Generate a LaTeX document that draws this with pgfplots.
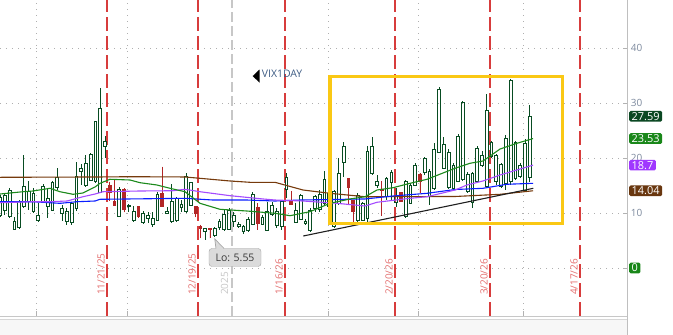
\documentclass[border=0pt]{standalone}
\usepackage{pgfplots}
\pgfplotsset{compat=1.18}
\usepackage{pgfplotstable}
\usepgfplotslibrary{statistics}
\usepackage{fontspec}
\setmainfont{Open Sans}

\definecolor{cg}{RGB}{8,76,34}
\definecolor{cr}{RGB}{178,38,38}
\definecolor{mabrown}{RGB}{118,58,12}
\definecolor{magreen}{RGB}{28,138,28}
\definecolor{mapurple}{RGB}{165,75,255}
\definecolor{mablue}{RGB}{10,30,255}
\definecolor{ylw}{RGB}{250,200,20}
\definecolor{gridc}{RGB}{175,175,175}
\definecolor{datec}{RGB}{228,110,110}
\definecolor{redline}{RGB}{215,60,60}
\definecolor{tickc}{RGB}{125,138,158}
\definecolor{vixc}{RGB}{62,92,132}
\definecolor{lblgreendark}{RGB}{10,72,34}
\definecolor{lblgreen}{RGB}{25,135,25}
\definecolor{lblpurple}{RGB}{160,55,255}
\definecolor{lblbrown}{RGB}{105,55,15}

% candle index, wick low, body low, body top, wick high
\pgfplotstableread{
i wl bl bt wh
0 9.33 9.64 12.79 13.27
1 9.64 10.55 13.27 13.58
2 9.03 9.33 14.06 14.48
3 6.91 7.03 8.54 9.33
4 7.21 7.33 12.06 12.36
5 10.85 11.15 14.91 20.54
6 10.55 12.06 13.88 15.82
7 10.12 10.24 13.58 14.48
8 8.42 8.73 9.64 11.76
9 11.76 12.06 14.91 15.21
10 9.15 11.15 12.67 14.48
11 10.36 10.55 15.58 15.82
12 14.18 14.61 16.42 18.12
13 8.54 9.94 10.85 11.45
14 7.82 8.54 10.36 10.85
15 7.82 8.30 11.76 12.06
16 10.36 10.85 16.73 19.21
17 15.09 17.52 18.12 18.85
18 14.79 15.09 19.03 20.54
19 15.82 16.00 20.67 20.85
20 15.39 15.70 26.61 26.73
21 13.58 13.76 29.03 32.67
22 19.94 22.06 23.09 24.00
23 12.18 13.76 15.09 15.70
24 11.33 11.33 12.18 16.00
25 9.33 9.45 14.30 14.79
26 10.12 10.67 14.30 14.48
27 10.12 11.15 11.45 11.64
28 8.42 8.61 10.24 11.27
29 9.27 9.33 11.27 11.27
30 8.12 8.24 9.94 10.36
31 8.12 9.03 9.64 10.12
32 7.52 7.94 9.03 10.12
33 8.61 8.61 13.45 13.88
34 11.15 11.15 13.58 18.42
35 9.76 9.94 10.36 11.15
36 8.30 8.42 12.18 15.27
37 8.42 8.61 12.67 12.97
38 10.12 11.03 11.58 12.36
39 10.12 10.24 16.73 17.33
40 11.33 11.45 15.52 15.70
41 9.21 9.94 11.27 11.27
42 5.39 7.21 7.64 7.82
43 5.09 6.73 7.21 7.21
44 5.39 7.03 7.21 7.21
45 5.55 6.00 7.21 7.52
46 6.91 7.33 8.54 8.91
47 6.73 7.09 9.76 10.55
48 6.91 7.09 10.55 10.97
49 7.52 8.54 9.64 10.24
50 7.33 7.52 7.94 8.42
51 6.12 6.61 7.64 7.82
52 6.61 6.91 8.91 9.33
53 7.82 7.94 13.39 13.76
54 6.91 8.12 11.03 11.76
55 7.82 7.94 9.15 9.64
56 6.73 6.91 10.36 12.06
57 9.52 9.76 11.45 12.06
58 7.21 7.82 10.36 10.85
59 6.91 7.52 12.06 12.36
60 12.67 14.36 16.42 17.21
61 11.58 11.64 12.24 14.00
62 8.24 8.30 10.55 11.76
63 8.73 8.91 13.27 13.39
64 7.82 8.12 8.54 8.85
65 6.73 6.79 10.55 10.85
66 10.12 10.85 12.97 13.27
67 10.12 10.73 13.45 14.18
68 11.45 11.76 16.18 17.64
69 10.85 11.15 13.58 14.48
70 7.33 7.52 14.00 14.18
71 11.45 11.76 17.21 19.94
72 16.61 19.21 22.06 22.97
73 11.45 14.67 16.30 16.30
74 8.12 10.24 12.36 12.36
75 8.42 8.61 13.15 13.58
76 8.54 8.73 11.76 11.94
77 8.42 9.03 21.27 22.18
78 16.91 17.21 22.18 23.88
79 14.48 14.97 15.82 16.91
80 9.52 14.12 14.36 15.82
81 12.36 12.97 16.30 16.61
82 12.18 15.58 17.39 17.82
83 11.15 11.94 12.97 14.48
84 12.06 12.18 13.76 13.76
85 9.15 9.33 15.70 16.00
86 11.58 11.76 15.09 15.39
87 14.97 15.09 18.73 19.03
88 13.58 15.82 17.09 17.33
89 16.91 17.33 19.94 20.24
90 11.45 12.97 17.52 17.94
91 14.18 14.48 21.64 22.67
92 20.85 21.03 32.55 32.97
93 18.00 18.12 22.48 23.88
94 14.48 14.61 21.03 21.64
95 14.18 14.48 18.73 19.03
96 15.70 15.82 24.00 24.30
97 15.82 16.18 30.12 30.36
98 13.58 13.88 17.03 17.52
99 10.85 11.94 17.21 17.52
100 15.70 15.82 21.76 22.18
101 18.42 18.61 20.42 21.27
102 14.79 14.91 28.73 31.64
103 19.94 20.24 22.85 23.09
104 15.09 15.70 20.54 20.73
105 14.48 14.79 18.85 19.15
106 14.18 15.39 23.58 24.18
107 15.09 15.70 34.06 34.36
108 16.00 16.30 22.79 23.09
109 16.42 16.61 18.73 19.03
110 13.88 14.18 22.67 23.45
111 15.70 16.42 27.59 29.64
}\candles

% draw candle in row #1 with style #2
\newcommand\candle[2]{%
  \pgfplotstablegetelem{#1}{wl}\of\candles\edef\cwl{\pgfplotsretval}%
  \pgfplotstablegetelem{#1}{bl}\of\candles\edef\cbl{\pgfplotsretval}%
  \pgfplotstablegetelem{#1}{bt}\of\candles\edef\cbt{\pgfplotsretval}%
  \pgfplotstablegetelem{#1}{wh}\of\candles\edef\cwh{\pgfplotsretval}%
  \edef\tmpplot{\noexpand\addplot[#2, line width=0.85bp,
    boxplot/draw direction=y,
    boxplot prepared={draw position=#1, lower whisker=\cwl, lower quartile=\cbl,
      median=\cbl, upper quartile=\cbt, upper whisker=\cwh,
      box extend=0.58, whisker extend=0}] coordinates {};}%
  \tmpplot
}

\begin{document}
\begin{tikzpicture}
\useasboundingbox (0,0) rectangle (673bp,335bp);
\fill[white] (0,0) rectangle (673bp,335bp);
\fill[black!3] (0,0) rectangle (627bp,16bp);
\begin{axis}[
  at={(0,19bp)}, anchor=south west,
  scale only axis, width=627bp, height=316bp,
  xmin=0, xmax=131.39, ymin=-8.727, ymax=48.727,
  clip mode=individual,
  axis line style={draw=none},
  ytick={0,10,20,30,40}, yticklabels={,10,20,30,40},
  ytick pos=right, yticklabel pos=right,
  xtick={7.54,26.61,68.73,87.59,109.6}, xticklabels={,,,,},
  xtick pos=left,
  tick align=inside, major tick length=4.5bp,
  tick style={black!30, line width=0.7bp},
  xmajorgrids, ymajorgrids,
  grid style={gridc, line width=0.9bp, dash pattern=on 1bp off 5bp},
  yticklabel style={text=tickc, font=\fontsize{10}{12}\selectfont, xshift=0.3bp},
  /pgf/number format/assume math mode=true,
]
% date separators
\addplot[redline, line width=1.1bp, dash pattern=on 14bp off 5bp] coordinates {(22.42,-8.727) (22.42,48.727)};
\addplot[redline, line width=1.1bp, dash pattern=on 14bp off 5bp] coordinates {(41.49,-8.727) (41.49,48.727)};
\addplot[redline, line width=1.1bp, dash pattern=on 14bp off 5bp] coordinates {(59.72,-8.727) (59.72,48.727)};
\addplot[redline, line width=1.1bp, dash pattern=on 14bp off 5bp] coordinates {(82.77,-8.727) (82.77,48.727)};
\addplot[redline, line width=1.1bp, dash pattern=on 14bp off 5bp] coordinates {(102.68,-8.727) (102.68,48.727)};
\addplot[redline, line width=1.1bp, dash pattern=on 14bp off 5bp] coordinates {(121.54,-8.727) (121.54,48.727)};
\addplot[black!22, line width=1.2bp, dash pattern=on 10bp off 4bp] coordinates {(48.62,-8.727) (48.62,48.727)};

% candles
\pgfplotsinvokeforeach{0,1,2,3,4,5,6,7,8,9,10,11,12,13,14,15,16,17,18,19,20,21,22,25,27,28,30,31,32,33,35,36,37,38,39,40,43,45,46,47,48,49,50,51,52,53,55,56,57,58,59,60,62,63,64,65,66,67,68,69,70,71,72,75,76,77,78,79,81,82,83,85,86,87,89,90,91,92,93,94,95,96,97,98,99,100,101,102,103,104,105,106,107,108,109,110,111}{
  \candle{#1}{cg}
}
\pgfplotsinvokeforeach{23,24,26,29,34,41,42,44,54,61,73,74,80,84,88}{
  \candle{#1}{cr, fill=cr}
}

% moving averages
\addplot[mabrown, line width=1.1bp] coordinates {(0,16.49) (20.96,16.55) (27.24,16.6) (38.77,16.55) (48.2,15.82) (52.39,15.58) (57.63,15.58) (63.5,14.18) (69.15,13.58) (76.49,12.96) (95.35,13.0) (104.8,13.4) (111.7,14.04)};
\addplot[mablue, line width=1.1bp] coordinates {(0,12.05) (6.92,12.05) (12.57,11.76) (16.14,12.05) (19.91,12.18) (20.96,12.49) (38.77,12.67) (44.64,12.36) (51.76,12.36) (57.63,12.18) (62.87,12.36) (76.49,12.55) (82.36,13.09) (89.48,13.58) (95.35,14.27) (101.2,14.49) (106.2,15.22) (111.7,15.4)};
\addplot[mapurple, line width=1.1bp] coordinates {(0,11.87) (6.92,12.05) (10.48,12.05) (14.04,12.18) (17.39,12.96) (19.91,13.45) (21.58,13.87) (29.34,14.0) (36.25,14.05) (38.77,14.31) (41.91,13.87) (48.2,13.15) (55.11,12.55) (57.63,12.36) (63.5,12.18) (70.62,11.76) (76.49,11.27) (79.0,11.95) (85.92,12.67) (89.48,12.96) (95.35,14.18) (97.86,15.09) (101.2,15.82) (104.8,16.91) (108.3,17.82) (111.7,18.7)};
\addplot[magreen, line width=1.1bp] coordinates {(0,13.45) (4.82,13.87) (6.92,14.0) (10.48,14.49) (12.57,13.87) (15.3,13.4) (17.39,13.64) (19.91,14.73) (20.96,15.4) (23.05,16.13) (27.24,16.0) (29.34,15.51) (32.9,15.09) (35.62,14.49) (38.77,13.87) (41.91,11.76) (46.1,10.67) (51.76,10.36) (57.63,9.95) (60.77,9.51) (64.96,10.24) (69.15,11.76) (73.34,12.55) (76.49,12.96) (79.0,14.18) (82.36,14.6) (85.92,15.4) (89.48,16.13) (95.35,18.13) (98.49,19.04) (101.2,19.45) (104.8,21.64) (108.3,22.67) (111.7,23.53)};

% trend line
\addplot[black!88, line width=1.1bp] coordinates {(63.56,5.82) (111.76,14.49)};

% highlight box
\draw[ylw, line width=3.3bp] (axis cs:69.15,8.13) rectangle (axis cs:117.92,34.78);

% symbol label
\fill[black] (axis cs:52.95,34.9) -- (axis cs:54.38,36.09) -- (axis cs:54.38,33.7) -- cycle;
\node[anchor=west, inner sep=0, text=vixc, font=\fontsize{10.5}{12}\selectfont] at (axis cs:54.84,35.3) {VIX1DAY};

% low callout
\node[draw=black!35, fill=black!14, rounded corners=3bp, minimum width=52bp, minimum height=18bp, inner sep=1bp, text=black!78, font=\fontsize{10.5}{12}\selectfont] at (axis cs:49.25,1.91) {Lo: 5.55};
\fill[black!14] (axis cs:45.0,5.3) -- (axis cs:45.26,3.4) -- (axis cs:46.94,3.4) -- cycle;
\draw[black!35, line width=0.7bp] (axis cs:45.26,3.55) -- (axis cs:45.0,5.3) -- (axis cs:46.94,3.55);

% date labels
\node[rotate=90, anchor=south west, inner sep=0, text=datec, font=\fontsize{10}{12}\selectfont] at ([xshift=-2bp]axis cs:22.42,-4.91) {11/21/25};
\node[rotate=90, anchor=south west, inner sep=0, text=datec, font=\fontsize{10}{12}\selectfont] at ([xshift=-2bp]axis cs:41.49,-4.91) {12/19/25};
\node[rotate=90, anchor=south west, inner sep=0, text=datec, font=\fontsize{10}{12}\selectfont] at ([xshift=-2bp]axis cs:59.72,-4.91) {1/16/26};
\node[rotate=90, anchor=south west, inner sep=0, text=datec, font=\fontsize{10}{12}\selectfont] at ([xshift=-2bp]axis cs:82.77,-4.91) {2/20/26};
\node[rotate=90, anchor=south west, inner sep=0, text=datec, font=\fontsize{10}{12}\selectfont] at ([xshift=-2bp]axis cs:102.68,-4.91) {3/20/26};
\node[rotate=90, anchor=south west, inner sep=0, text=datec, font=\fontsize{10}{12}\selectfont] at ([xshift=-2bp]axis cs:121.54,-4.91) {4/17/26};
\node[rotate=90, anchor=south west, inner sep=0, text=black!22, font=\fontsize{10}{12}\selectfont] at ([xshift=-3.5bp]axis cs:48.62,-4.91) {2025};

\coordinate (r1) at (axis cs:131.39,27.59);
\coordinate (r2) at (axis cs:131.39,23.53);
\coordinate (r3) at (axis cs:131.39,18.7);
\coordinate (r4) at (axis cs:131.39,14.04);
\coordinate (r5) at (axis cs:131.39,0);
\end{axis}
\draw[black!22, line width=0.8bp] (0,19bp) -- (627bp,19bp);
\draw[black!16, line width=0.8bp] (0,16bp) -- (627bp,16bp);
\draw[black!25, line width=0.8bp] (627bp,0) -- (627bp,335bp);
\tikzset{vl/.style={anchor=west, text=white, rounded corners=1.5bp, inner xsep=2.5bp, inner ysep=1.3bp, font=\fontsize{11}{12}\selectfont}}
\node[vl, fill=lblgreendark] at ([xshift=2bp]r1) {27.59};
\node[vl, fill=lblgreen] at ([xshift=2bp]r2) {23.53};
\node[vl, fill=lblpurple] at ([xshift=2bp]r3) {18.7};
\node[vl, fill=lblbrown] at ([xshift=2bp]r4) {14.04};
\node[vl, fill=lblgreen] at ([xshift=2bp]r5) {0};
\end{tikzpicture}
\end{document}
